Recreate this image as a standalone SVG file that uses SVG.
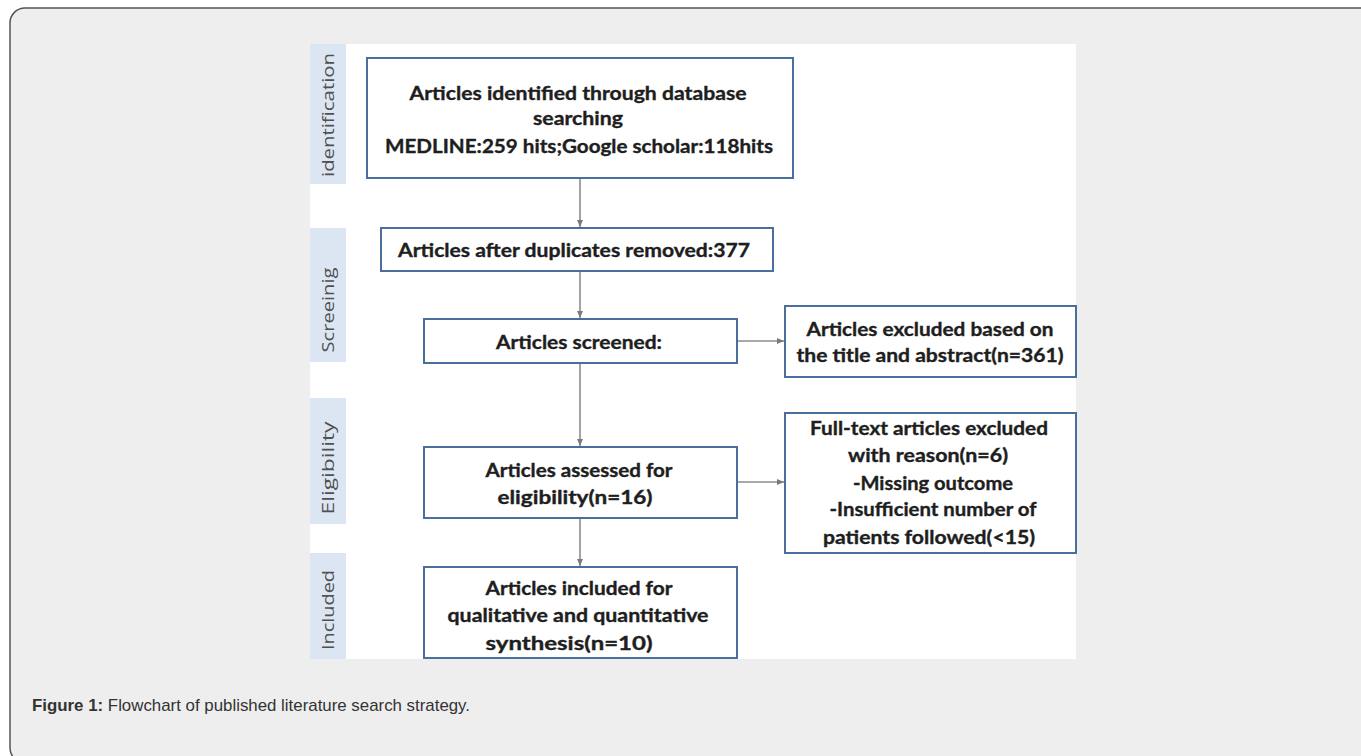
<svg xmlns="http://www.w3.org/2000/svg" width="1361" height="756" viewBox="0 0 1361 756">
<style>
.box{fill:#ffffff;stroke:#4a6f9c;stroke-width:2}
.band{fill:#dce6f2}
.t{font-family:Lato,"Liberation Sans",sans-serif;font-weight:bold;font-size:18px;fill:#1e1e1e;stroke:#1e1e1e;stroke-width:0.35;text-anchor:middle}
.side{font-family:"Open Sans","Liberation Sans",sans-serif;font-size:16px;fill:#505050;text-anchor:middle}
.conn{stroke:#8c8c8c;stroke-width:1.6;fill:none}
.cap{font-family:"Liberation Sans",Arial,sans-serif;font-size:17px;fill:#333}
</style>
<defs>
<marker id="ah" markerWidth="8" markerHeight="8" refX="7" refY="4" orient="auto" markerUnits="userSpaceOnUse">
<path d="M0,1 L7,4 L0,7 Z" fill="#7a7a7a"/>
</marker>
</defs>
<rect x="0" y="0" width="1361" height="756" fill="#ffffff"/>
<rect x="10" y="8" width="1380" height="755" rx="15" ry="15" fill="#eeeeee" stroke="#555555" stroke-width="1.5"/>
<rect x="310" y="44" width="766" height="615" fill="#ffffff"/>

<g id="bands">
<rect class="band" x="310" y="44" width="36" height="140"/>
<rect class="band" x="310" y="228" width="36" height="134"/>
<rect class="band" x="310" y="398" width="36" height="126"/>
<rect class="band" x="310" y="553" width="36" height="106"/>
<text class="side" transform="translate(334,115) rotate(-90)" textLength="124" lengthAdjust="spacingAndGlyphs">identification</text>
<text class="side" transform="translate(334,310) rotate(-90)" textLength="85" lengthAdjust="spacingAndGlyphs">Screeinig</text>
<text class="side" transform="translate(334,468) rotate(-90)" textLength="93" lengthAdjust="spacingAndGlyphs">Eligibility</text>
<text class="side" transform="translate(334,610) rotate(-90)" textLength="80" lengthAdjust="spacingAndGlyphs">Included</text>
</g>

<g id="connectors">
<line class="conn" x1="580" y1="178" x2="580" y2="227" marker-end="url(#ah)"/>
<line class="conn" x1="580" y1="271" x2="580" y2="318" marker-end="url(#ah)"/>
<line class="conn" x1="580" y1="363" x2="580" y2="446" marker-end="url(#ah)"/>
<line class="conn" x1="580" y1="518" x2="580" y2="566" marker-end="url(#ah)"/>
<line class="conn" x1="737" y1="341" x2="784" y2="341" marker-end="url(#ah)"/>
<line class="conn" x1="737" y1="482" x2="784" y2="482" marker-end="url(#ah)"/>
</g>

<g id="n1">
<rect class="box" x="367" y="58" width="426" height="120"/>
<text class="t" x="578" y="100" textLength="337" lengthAdjust="spacingAndGlyphs">Articles identified through database</text>
<text class="t" x="578" y="125" textLength="90" lengthAdjust="spacingAndGlyphs">searching</text>
<text class="t" x="579" y="153" textLength="388" lengthAdjust="spacingAndGlyphs">MEDLINE:259 hits;Google scholar:118hits</text>
</g>

<g id="n2">
<rect class="box" x="381" y="228" width="392" height="43"/>
<text class="t" x="574" y="257" textLength="352" lengthAdjust="spacingAndGlyphs">Articles after duplicates removed:377</text>
</g>

<g id="n3">
<rect class="box" x="424" y="319" width="313" height="44"/>
<text class="t" x="579" y="349" textLength="166" lengthAdjust="spacingAndGlyphs">Articles screened:</text>
</g>

<g id="n4">
<rect class="box" x="424" y="447" width="313" height="71"/>
<text class="t" x="579" y="477" textLength="187" lengthAdjust="spacingAndGlyphs">Articles assessed for</text>
<text class="t" x="575" y="504" textLength="155" lengthAdjust="spacingAndGlyphs">eligibility(n=16)</text>
</g>

<g id="n5">
<rect class="box" x="424" y="567" width="313" height="91"/>
<text class="t" x="579" y="595" textLength="187" lengthAdjust="spacingAndGlyphs">Articles included for</text>
<text class="t" x="578" y="622" textLength="261" lengthAdjust="spacingAndGlyphs">qualitative and quantitative</text>
<text class="t" x="569" y="650" textLength="167" lengthAdjust="spacingAndGlyphs">synthesis(n=10)</text>
</g>

<g id="n6">
<rect class="box" x="785" y="306" width="291" height="71"/>
<text class="t" x="930" y="336" textLength="247" lengthAdjust="spacingAndGlyphs">Articles excluded based on</text>
<text class="t" x="930" y="362" textLength="267" lengthAdjust="spacingAndGlyphs">the title and abstract(n=361)</text>
</g>

<g id="n7">
<rect class="box" x="785" y="413" width="291" height="140"/>
<text class="t" x="929" y="435" textLength="238" lengthAdjust="spacingAndGlyphs">Full-text articles excluded</text>
<text class="t" x="928" y="462" textLength="160" lengthAdjust="spacingAndGlyphs">with reason(n=6)</text>
<text class="t" x="933" y="490" textLength="160" lengthAdjust="spacingAndGlyphs">-Missing outcome</text>
<text class="t" x="933" y="516" textLength="207" lengthAdjust="spacingAndGlyphs">-Insufficient number of</text>
<text class="t" x="929" y="544" textLength="212" lengthAdjust="spacingAndGlyphs">patients followed(&lt;15)</text>
</g>

<g id="caption">
<text class="cap" x="32" y="711" textLength="438" lengthAdjust="spacingAndGlyphs"><tspan font-weight="bold">Figure 1:</tspan> Flowchart of published literature search strategy.</text>
</g>
</svg>
